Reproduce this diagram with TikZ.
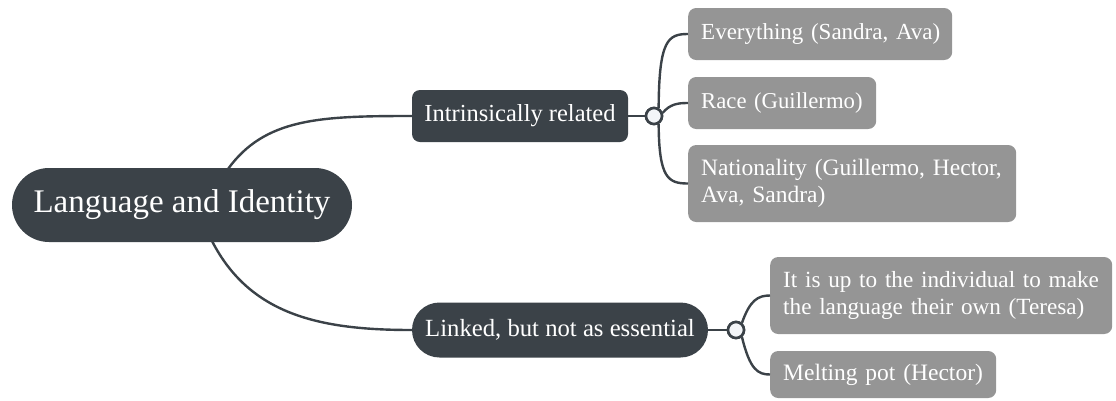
\documentclass[tikz,border=0pt]{standalone}
\usepackage{fontspec}
\setmainfont{Liberation Serif}
\definecolor{darkbox}{HTML}{3B4248}
\definecolor{greybox}{HTML}{959595}
\definecolor{knob}{HTML}{F3F5F8}
\newcommand{\fs}[1]{\fontsize{#1}{#1}\selectfont}
\begin{document}
\begin{tikzpicture}[x=1pt,y=-1pt,
  darknode/.style={fill=darkbox,text=white,inner sep=0pt,align=center},
  greynode/.style={fill=greybox,text=white,rounded corners=8pt,inner xsep=13pt,inner ysep=0pt,align=left,anchor=west},
  conn/.style={draw=darkbox,line width=2.4pt},
  knobnode/.style={circle,draw=darkbox,fill=knob,line width=2.6pt,minimum size=16pt,inner sep=0pt}]
\useasboundingbox (0,0) rectangle (1116,400);
% nodes
\node[darknode,rounded corners=37pt,minimum width=340pt,minimum height=74pt,font=\fs{33}] (root) at (182,205) {Language and Identity};
\node[darknode,rounded corners=8pt,minimum width=216pt,minimum height=52pt,font=\fs{24.5}] (intr) at (520,116) {Intrinsically related};
\node[darknode,rounded corners=27.5pt,minimum width=296pt,minimum height=55pt,font=\fs{24.7}] (link) at (560,330) {Linked, but not as essential};
\node[knobnode] (k1) at (654,116) {};
\node[knobnode] (k2) at (736,330) {};
\node[greynode,text width=238pt,minimum height=52pt,font=\fs{23}] (every) at (688,34) {\mbox{Everything (Sandra, Ava)}};
\node[greynode,text width=162pt,minimum height=52pt,font=\fs{22.7}] (race) at (688,103) {\mbox{Race (Guillermo)}};
\node[greynode,text width=302pt,minimum height=77pt,font=\fontsize{23.5}{27}\selectfont] (nat) at (688,183.5) {\mbox{Nationality (Guillermo, Hector,}\\Ava, Sandra)};
\node[greynode,text width=316pt,minimum height=77pt,font=\fontsize{23.2}{27}\selectfont] (upto) at (770,295.5) {\mbox{It is up to the individual to make}\\\mbox{the language their own (Teresa)}};
\node[greynode,text width=200pt,minimum height=47pt,font=\fs{23.5}] (melt) at (770,374.5) {\mbox{Melting pot (Hector)}};
% connectors
\draw[conn] (228,169) .. controls (265,118) and (320,116) .. (intr.west);
\draw[conn] (212,241) .. controls (250,315) and (320,330) .. (link.west);
\draw[conn] (intr.east) -- (k1.west);
\draw[conn] (link.east) -- (k2.west);
\draw[conn] (k1.60) .. controls (659,40) and (668,34) .. (every.west);
\draw[conn] (k1.20) .. controls (670,104) and (678,103) .. (race.west);
\draw[conn] (k1.-60) .. controls (659,178) and (668,183.5) .. (nat.west);
\draw[conn] (k2.50) .. controls (750,300) and (758,295.5) .. (upto.west);
\draw[conn] (k2.-50) .. controls (750,370) and (758,374.5) .. (melt.west);
\node[knobnode] at (k1) {};
\node[knobnode] at (k2) {};
\end{tikzpicture}
\end{document}
